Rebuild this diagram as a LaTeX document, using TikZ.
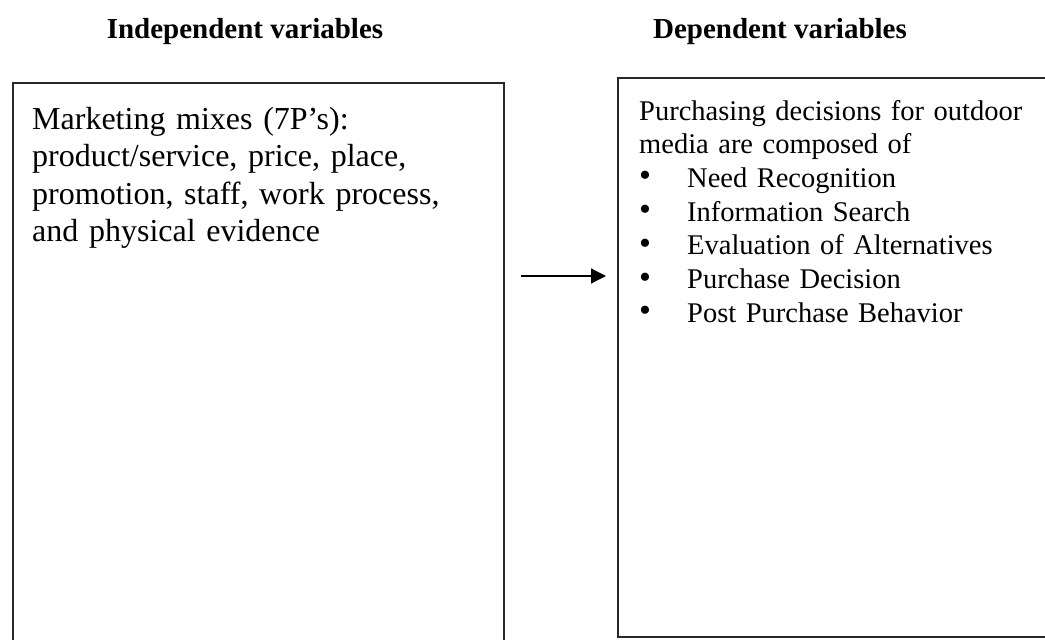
\documentclass[tikz,border=0pt]{standalone}
\usepackage{fontspec}
\setmainfont{Liberation Serif}
\usetikzlibrary{calc,arrows.meta}
\definecolor{FrameGray}{RGB}{40,40,40}
\definecolor{TextDark}{RGB}{0,0,0}
\newcommand{\dotitem}{\makebox[48pt][l]{\smash{\raisebox{0.5pt}{\fontsize{34}{34}\selectfont\textbullet}}}}

\begin{document}
\begin{tikzpicture}[x=1pt,y=-1pt]
  \useasboundingbox (0,0) rectangle (1045,640);
  \clip (0,0) rectangle (1045,640);
  \tikzset{
    headtext/.style={anchor=base,inner sep=0pt,font=\fontsize{29}{33}\selectfont\bfseries},
    varbox/.style={draw=FrameGray,line width=1.6pt,anchor=north west,inner sep=0pt},
    bodytext/.style={anchor=base west,inner sep=0pt,align=left,text=TextDark}
  }
  % titles
  \node[headtext] (indeptitle) at (245,38) {Independent variables};
  \node[headtext] (deptitle) at (780,38) {Dependent variables};
  % frames
  \node[varbox,minimum width=491pt,minimum height=600pt] (indep) at (12,82) {};
  \node[varbox,minimum width=460pt,minimum height=559pt] (dep) at (617,77) {};
  % texts
  \node[bodytext,text width=460pt,font=\fontsize{32}{37.5}\selectfont] (indeptext) at (32,129) {
    Marketing mixes (7P’s):\\
    product/service, price, place,\\
    promotion, staff, work process,\\
    and physical evidence
  };
  \node[bodytext,text width=400pt,font=\fontsize{28.5}{33.7}\selectfont] (deptext) at (639,120) {
    Purchasing decisions for outdoor\\
    media are composed of\\
    \dotitem Need Recognition\\
    \dotitem Information Search\\
    \dotitem Evaluation of Alternatives\\
    \dotitem Purchase Decision\\
    \dotitem Post Purchase Behavior
  };
  % relation
  \coordinate (arrowrow) at (0,276);
  \draw[-{Triangle[length=15pt,width=15pt]},line width=1.3pt,shorten <=16pt,shorten >=11pt]
    (indep.east |- arrowrow) -- (dep.west |- arrowrow);
\end{tikzpicture}
\end{document}
